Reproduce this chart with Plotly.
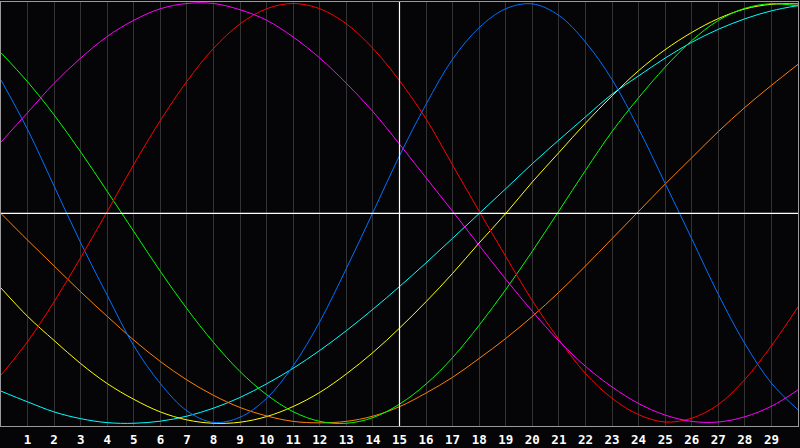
import plotly.graph_objects as go

X = [0, 1, 2, 3, 4, 5, 6, 7, 8, 9, 10, 11, 12, 13, 14, 15, 16, 17, 18, 19, 20,
     21, 22, 23, 24, 25, 26, 27, 28, 29, 30]

TICK_VALUES = [1, 2, 3, 4, 5, 6, 7, 8, 9, 10, 11, 12, 13, 14, 15, 16, 17, 18, 19,
               20, 21, 22, 23, 24, 25, 26, 27, 28, 29]
TICK_LABELS = [str(v) for v in TICK_VALUES]

MAGENTA = [0.34, 0.48, 0.62, 0.74, 0.843, 0.92, 0.975, 1.00, 1.00, 0.97, 0.92, 0.84,
           0.74, 0.62, 0.485, 0.33, 0.17, 0.01, -0.152, -0.313, -0.466, -0.607, -0.728,
           -0.826, -0.905, -0.96, -0.99, -0.993, -0.968, -0.918, -0.84]
RED = [-0.77, -0.61, -0.42, -0.21, 0.01, 0.234, 0.443, 0.63, 0.786, 0.903, 0.975, 1.0,
       0.975, 0.903, 0.786, 0.632, 0.45, 0.23, 0.01, -0.205, -0.415, -0.60, -0.762,
       -0.88, -0.958, -0.993, -0.975, -0.91, -0.79, -0.63, -0.445]
BLUE = [0.635, 0.40, 0.13, -0.14, -0.39, -0.63, -0.81, -0.94, -0.995, -0.97, -0.88,
        -0.725, -0.515, -0.262, 0.005, 0.275, 0.52, 0.735, 0.885, 0.975, 0.998, 0.943,
        0.816, 0.638, 0.404, 0.143, -0.12, -0.385, -0.62, -0.808, -0.935]
GREEN = [0.765, 0.627, 0.469, 0.293, 0.105, -0.086, -0.276, -0.454, -0.614, -0.753,
         -0.863, -0.944, -0.99, -0.999, -0.972, -0.908, -0.812, -0.686, -0.532, -0.362,
         -0.18, 0.012, 0.205, 0.39, 0.551, 0.697, 0.823, 0.919, 0.977, 0.999, 0.988]
ORANGE = [0.0, -0.127, -0.25, -0.373, -0.49, -0.603, -0.705, -0.793, -0.866, -0.924,
          -0.964, -0.99, -0.997, -0.99, -0.965, -0.92, -0.855, -0.78, -0.69, -0.595,
          -0.49, -0.375, -0.25, -0.12, 0.01, 0.14, 0.265, 0.39, 0.505, 0.61, 0.71]
YELLOW = [-0.355, -0.49, -0.605, -0.715, -0.81, -0.885, -0.945, -0.983, -0.999, -0.994,
          -0.967, -0.919, -0.852, -0.764, -0.662, -0.546, -0.42, -0.285, -0.14, 0.0,
          0.15, 0.29, 0.43, 0.56, 0.68, 0.78, 0.862, 0.928, 0.974, 0.996, 0.998]
CYAN = [-0.846, -0.897, -0.945, -0.977, -0.996, -0.999, -0.989, -0.965, -0.927, -0.876,
        -0.811, -0.737, -0.652, -0.558, -0.456, -0.348, -0.235, -0.118, 0.0, 0.118,
        0.237, 0.35, 0.46, 0.568, 0.655, 0.74, 0.815, 0.877, 0.927, 0.965, 0.99]

SERIES = [
    ("Cyan", CYAN, "#00ffff"),
    ("Yellow", YELLOW, "#ffff00"),
    ("Orange", ORANGE, "#ff8000"),
    ("Green", GREEN, "#00ff00"),
    ("Blue", BLUE, "#0070ff"),
    ("Red", RED, "#ff0000"),
    ("Magenta", MAGENTA, "#ff00ff"),
]

fig = go.Figure()
for name, vals, col in SERIES:
    fig.add_trace(go.Scatter(x=X, y=vals, mode="lines", name=name, hoverinfo="skip",
                             line=dict(color=col, width=1, shape="spline", smoothing=1)))

fig.add_shape(type="line", xref="x", yref="paper", x0=15, x1=15, y0=0, y1=1,
              line=dict(color="#ffffff", width=1.2), layer="above")
fig.add_shape(type="line", xref="paper", yref="y", x0=0, x1=1, y0=0, y1=0,
              line=dict(color="#ffffff", width=1.2), layer="above")

fig.update_layout(
    width=800, height=448,
    margin=dict(l=1, r=1, t=1, b=21),
    paper_bgcolor="#050508",
    plot_bgcolor="#050508",
    showlegend=False,
    xaxis=dict(range=[0, 30], tickvals=TICK_VALUES, ticktext=TICK_LABELS,
               showgrid=True, gridcolor="#333333", gridwidth=1, zeroline=False,
               showline=True, linecolor="#9a9a9a", linewidth=1, mirror=True,
               ticks="", ticklabelstandoff=2,
               tickfont=dict(family="DejaVu Sans Mono", size=12.5, color="#ffffff",
                             weight="bold")),
    yaxis=dict(range=[-1.012, 1.007], showgrid=False, zeroline=False,
               showticklabels=False, ticks="",
               showline=True, linecolor="#9a9a9a", linewidth=1, mirror=True),
)

fig.write_html(
    "out.html",
    config={"displayModeBar": False, "staticPlot": True},
    post_script="document.body.style.margin='0';document.body.style.background='#050508';",
)
